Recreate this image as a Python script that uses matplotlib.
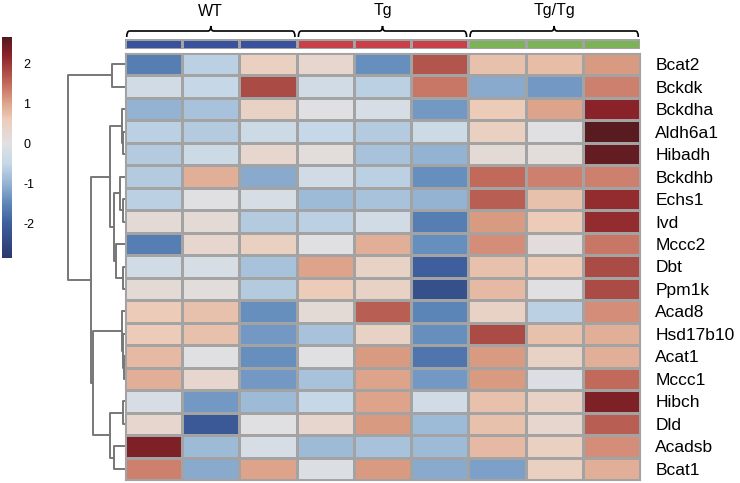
import numpy as np
import matplotlib
matplotlib.use('Agg')
import matplotlib.pyplot as plt
from matplotlib.colors import LinearSegmentedColormap, ListedColormap, Normalize
from matplotlib.path import Path
from matplotlib.patches import PathPatch
from matplotlib.cm import ScalarMappable

plt.rcParams['font.family'] = ['Liberation Sans', 'DejaVu Sans']
plt.rcParams['axes.unicode_minus'] = False

# data
genes = ['Bcat2', 'Bckdk', 'Bckdha', 'Aldh6a1', 'Hibadh', 'Bckdhb', 'Echs1', 'Ivd',
         'Mccc2', 'Dbt', 'Ppm1k', 'Acad8', 'Hsd17b10', 'Acat1', 'Mccc1', 'Hibch',
         'Dld', 'Acadsb', 'Bcat1']
groups = ['WT', 'Tg', 'Tg/Tg']
sample_group = [0, 0, 0, 1, 1, 1, 2, 2, 2]
group_colors = ['#3a529b', '#c8404a', '#7bb356']

values = np.array([
    [-1.6, -0.6, 0.5, 0.3, -1.4, 1.7, 0.7, 0.75, 1.1],
    [-0.3, -0.5, 1.8, -0.3, -0.6, 1.4, -1.1, -1.3, 1.3],
    [-1.0, -0.8, 0.4, 0.0, -0.2, -1.3, 0.6, 1.0, 2.2],
    [-0.6, -0.7, -0.4, -0.5, -0.7, -0.4, 0.5, 0.0, 2.6],
    [-0.7, -0.4, 0.3, 0.1, -0.8, -1.0, 0.2, 0.1, 2.5],
    [-0.7, 0.9, -1.1, -0.3, -0.6, -1.4, 1.5, 1.3, 1.3],
    [-0.6, 0.0, -0.2, -0.9, -0.8, -1.0, 1.6, 0.7, 2.1],
    [0.2, 0.2, -0.7, -0.6, -0.3, -1.6, 1.1, 0.6, 2.1],
    [-1.6, 0.3, 0.5, 0.0, 0.9, -1.4, 1.2, 0.1, 1.4],
    [-0.3, -0.2, -0.8, 1.0, 0.4, -2.0, 0.7, 0.6, 1.8],
    [0.2, 0.1, -0.7, 0.6, 0.4, -2.3, 0.8, 0.0, 1.8],
    [0.6, 0.7, -1.4, 0.2, 1.6, -1.5, 0.4, -0.6, 1.2],
    [0.6, 0.7, -1.3, -0.8, 0.4, -1.4, 1.8, 0.7, 0.9],
    [0.8, 0.0, -1.4, 0.0, 1.1, -1.7, 1.1, 0.4, 0.9],
    [0.9, 0.3, -1.3, -0.8, 1.0, -1.3, 1.1, -0.1, 1.5],
    [-0.2, -1.3, -0.9, -0.5, 1.0, -0.3, 0.7, 0.4, 2.3],
    [0.3, -2.1, 0.0, 0.3, 1.1, -0.9, 0.7, 0.3, 1.6],
    [2.3, -0.9, -0.2, -0.9, -0.8, -0.9, 0.8, 0.5, 1.2],
    [1.3, -1.1, 1.0, -0.1, 1.1, -1.1, -1.2, 0.5, 0.9],
])

# row dendrogram: (height, left, right)
tree = (1.0,
        (0.23, 'Bcat2', 'Bckdk'),
        (0.60,
         (0.26,
          (0.06, 'Bckdha', (0.03, 'Aldh6a1', 'Hibadh')),
          (0.19,
           (0.09, 'Bckdhb', (0.035, 'Echs1', 'Ivd')),
           (0.15, 'Mccc2', (0.035, 'Dbt', 'Ppm1k')))),
         (0.56,
          (0.06, 'Acad8', (0.04, 'Hsd17b10', (0.02, 'Acat1', 'Mccc1'))),
          (0.26,
           (0.035, 'Hibch', 'Dld'),
           (0.19, 'Acadsb', 'Bcat1')))))

vmin, vmax = -2.85, 2.65


def pos(v):
    return (v - vmin) / (vmax - vmin)


cmap = LinearSegmentedColormap.from_list('hm', [
    (0.0, '#29396c'),
    (pos(-2.0), '#3e5e9e'),
    (pos(-1.5), '#5d86b8'),
    (pos(-1.0), '#94b3d3'),
    (pos(-0.5), '#c6d8e7'),
    (pos(0.0), '#e0e0e2'),
    (pos(0.6), '#ecccb9'),
    (pos(1.0), '#dea58c'),
    (pos(1.5), '#c26a5b'),
    (pos(2.2), '#8c2329'),
    (1.0, '#521a1f'),
])
norm = Normalize(vmin=vmin, vmax=vmax)

W, H = 740, 483
fig = plt.figure(figsize=(W / 100, H / 100), dpi=100)


def rect(x0, y0, x1, y1):
    return [x0 / W, 1 - y1 / H, (x1 - x0) / W, (y1 - y0) / H]


grid = '#a3a3a3'

# heatmap
ax = fig.add_axes(rect(125, 53, 640, 480))
ax.pcolormesh(values, cmap=cmap, norm=norm, edgecolors=grid, linewidth=1.0)
ax.set_xlim(0, values.shape[1])
ax.set_ylim(len(genes), 0)
ax.set_xticks([])
ax.yaxis.tick_right()
ax.set_yticks(np.arange(len(genes)) + 0.5)
ax.set_yticklabels(genes, fontsize=12.5)
ax.tick_params(axis='y', length=0, pad=11)
for s in ax.spines.values():
    s.set_color(grid)

# annotation bar
axa = fig.add_axes(rect(125, 39, 640, 49))
axa.pcolormesh([sample_group], cmap=ListedColormap(group_colors), vmin=-0.5, vmax=2.5,
               edgecolors=grid, linewidth=1.0)
axa.set_xlim(0, values.shape[1])
axa.axis('off')

# braces with group labels
axb = fig.add_axes(rect(125, 0, 640, 38))
axb.set_xlim(0, values.shape[1])
axb.set_ylim(38, 0)
axb.axis('off')
for gi, g in enumerate(groups):
    cols = [i for i, s in enumerate(sample_group) if s == gi]
    x0, x1 = cols[0] + 0.03, cols[-1] + 1 - 0.03
    xm = (x0 + x1) / 2
    d = 0.05
    verts = [(x0, 37), (x0, 31), (x0 + d, 31),
             (xm - d, 31), (xm, 31), (xm, 26),
             (xm, 31), (xm + d, 31),
             (x1 - d, 31), (x1, 31), (x1, 37)]
    codes = [Path.MOVETO, Path.CURVE3, Path.CURVE3,
             Path.LINETO, Path.CURVE3, Path.CURVE3,
             Path.CURVE3, Path.CURVE3,
             Path.LINETO, Path.CURVE3, Path.CURVE3]
    axb.add_patch(PathPatch(Path(verts, codes), fill=False, lw=1.2, color='black'))
    axb.text(xm, 11, g, ha='center', va='center', fontsize=11.5)

# dendrogram
axd = fig.add_axes(rect(68, 53, 125, 480))
axd.set_xlim(1.0, 0)
axd.set_ylim(len(genes), 0)
axd.axis('off')


def draw(node):
    if isinstance(node, str):
        return genes.index(node) + 0.5, 0.0
    h, left, right = node
    yl, hl = draw(left)
    yr, hr = draw(right)
    axd.plot([hl, h, h, hr], [yl, yl, yr, yr], color='#777777', lw=1.4,
             solid_capstyle='butt', clip_on=False)
    return (yl + yr) / 2, h


draw(tree)

# colorbar
axc = fig.add_axes(rect(2, 37, 12, 258))
cb = fig.colorbar(ScalarMappable(norm=norm, cmap=cmap), cax=axc)
cb.set_ticks([-2, -1, 0, 1, 2])
cb.outline.set_visible(False)
cb.ax.tick_params(length=0, labelsize=9, pad=8)

fig.savefig('out.png', dpi=100)
